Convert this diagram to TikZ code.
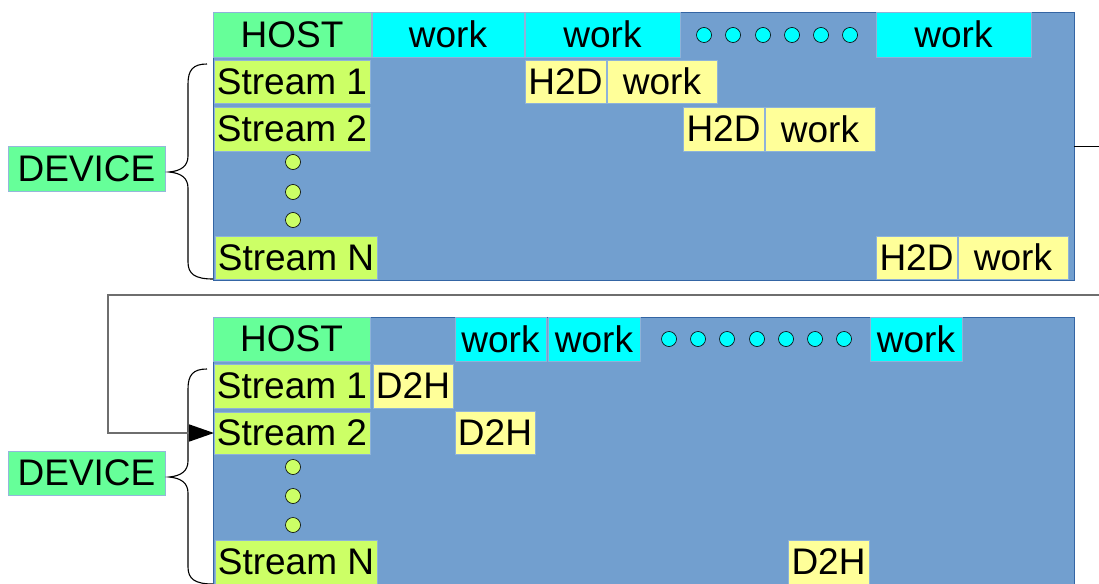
\documentclass[tikz,border=0pt]{standalone}
\usepackage{fontspec}
\setmainfont{Liberation Sans}
\usetikzlibrary{arrows.meta}
\definecolor{bgblue}{HTML}{729FCF}
\definecolor{bgedge}{HTML}{3465A4}
\definecolor{hostgreen}{HTML}{66FF99}
\definecolor{streamgreen}{HTML}{CCFF66}
\definecolor{workcyan}{HTML}{00FFFF}
\definecolor{xferyellow}{HTML}{FFFF99}
\definecolor{linkgray}{HTML}{6E6E6E}
\newcommand{\bx}[7]{%
  \pgfmathsetmacro\bxw{#4-#2}\pgfmathsetmacro\bxh{#5-#3}%
  \pgfmathsetmacro\bxx{(#2+#4)/2}\pgfmathsetmacro\bxy{(#3+#5)/2}%
  \node[#6, minimum width=\bxw pt, minimum height=\bxh pt] (#1) at (\bxx,\bxy) {#7};}
\tikzset{
  boxbase/.style={rectangle, inner sep=0pt, outer sep=0pt, font=\fontsize{37}{40}\selectfont, draw=bgblue!80!white, line width=0.7pt},
  panel/.style={rectangle, inner sep=0pt, outer sep=0pt, fill=bgblue, draw=bgedge, line width=0.8pt},
  host/.style={boxbase, fill=hostgreen},
  devbox/.style={boxbase, fill=hostgreen, draw=bgblue!75!white, line width=1pt},
  stream/.style={boxbase, fill=streamgreen},
  work/.style={boxbase, fill=workcyan},
  xfer/.style={boxbase, fill=xferyellow},
  cdot/.style={circle, draw=black, line width=0.6pt, minimum size=15pt, inner sep=0pt, fill=workcyan},
  sdot/.style={circle, draw=black, line width=0.6pt, minimum size=15pt, inner sep=0pt, fill=streamgreen},
  brace/.style={draw=black, line width=1.1pt},
  link/.style={draw=linkgray, line width=1.6pt},
}
\begin{document}
\begin{tikzpicture}[x=1pt, y=-1pt]
\useasboundingbox (0,0) rectangle (1099,583);
\clip (0,0) rectangle (1099,583);
% ---------- top panel ----------
\bx{bgA}{213}{12}{1074}{280}{panel}{}
\bx{hostA}{213}{12}{371}{57}{host}{HOST}
\bx{workA1}{372}{12}{524}{57}{work}{work}
\bx{workA2}{525}{12}{680}{57}{work}{work}
\bx{workA3}{876}{12}{1031}{57}{work}{work}
\foreach \i/\x in {1/704,2/733,3/763,4/792,5/821,6/850}{\node[cdot] (cdA\i) at (\x,35) {};}
\bx{stA1}{214}{60}{370}{103}{stream}{Stream 1}
\bx{stA2}{214}{107}{370}{151}{stream}{Stream 2}
\foreach \i/\y in {1/162,2/192,3/220}{\node[sdot] (sdA\i) at (293,\y) {};}
\bx{stAN}{215}{236}{377}{279}{stream}{Stream N}
\bx{hA1}{525}{60}{606}{103}{xfer}{H2D}
\bx{wA1}{607}{60}{717}{103}{xfer}{work}
\bx{hA2}{683}{107}{764}{151}{xfer}{H2D}
\bx{wA2}{765}{107}{875}{151}{xfer}{work}
\bx{hAN}{876}{236}{957}{279}{xfer}{H2D}
\bx{wAN}{958}{236}{1068}{279}{xfer}{work}
\bx{devA}{8}{146}{165}{191}{devbox}{DEVICE}
\draw[brace] (207,64) .. controls (193,64) and (188,70) .. (188,84) -- (188,156)
  .. controls (188,166) and (181,171) .. (169,172)
  .. controls (181,173) and (188,178) .. (188,188) -- (188,262)
  .. controls (188,274) and (195,279) .. (213,279);
% ---------- bottom panel ----------
\bx{bgB}{213}{317}{1074}{600}{panel}{}
\bx{hostB}{213}{317}{370}{361}{host}{HOST}
\bx{workB1}{455}{317}{546}{361}{work}{work}
\bx{workB2}{548}{317}{640}{361}{work}{work}
\bx{workB3}{870}{317}{962}{361}{work}{work}
\foreach \i/\x in {1/669,2/698,3/727,4/757,5/786,6/815,7/844}{\node[cdot] (cdB\i) at (\x,339) {};}
\bx{stB1}{214}{364}{370}{408}{stream}{Stream 1}
\bx{dB1}{373}{364}{453}{408}{xfer}{D2H}
\bx{stB2}{214}{412}{370}{454}{stream}{Stream 2}
\bx{dB2}{455}{411}{535}{454}{xfer}{D2H}
\foreach \i/\y in {1/467,2/496,3/525}{\node[sdot] (sdB\i) at (293,\y) {};}
\bx{stBN}{215}{540}{377}{584}{stream}{Stream N}
\bx{dBN}{788}{540}{869}{584}{xfer}{D2H}
\bx{devB}{8}{451}{165}{495}{devbox}{DEVICE}
\draw[brace] (207,369) .. controls (193,369) and (188,375) .. (188,389) -- (188,461)
  .. controls (188,471) and (181,476) .. (169,477)
  .. controls (181,478) and (188,483) .. (188,493) -- (188,567)
  .. controls (188,579) and (195,584) .. (213,584);
% ---------- connector ----------
\coordinate (exitA) at (1074,146);
\coordinate (offA) at (1120,146);
\coordinate (offB) at (1120,295);
\coordinate (bendL) at (108,295);
\draw[black, line width=1pt] (exitA) -- (offA);
\draw[link, -{Triangle[length=25pt, width=17pt, color=black]}] (offA) -- (offB) -- (bendL) |- (stB2.west);
\end{tikzpicture}
\end{document}
